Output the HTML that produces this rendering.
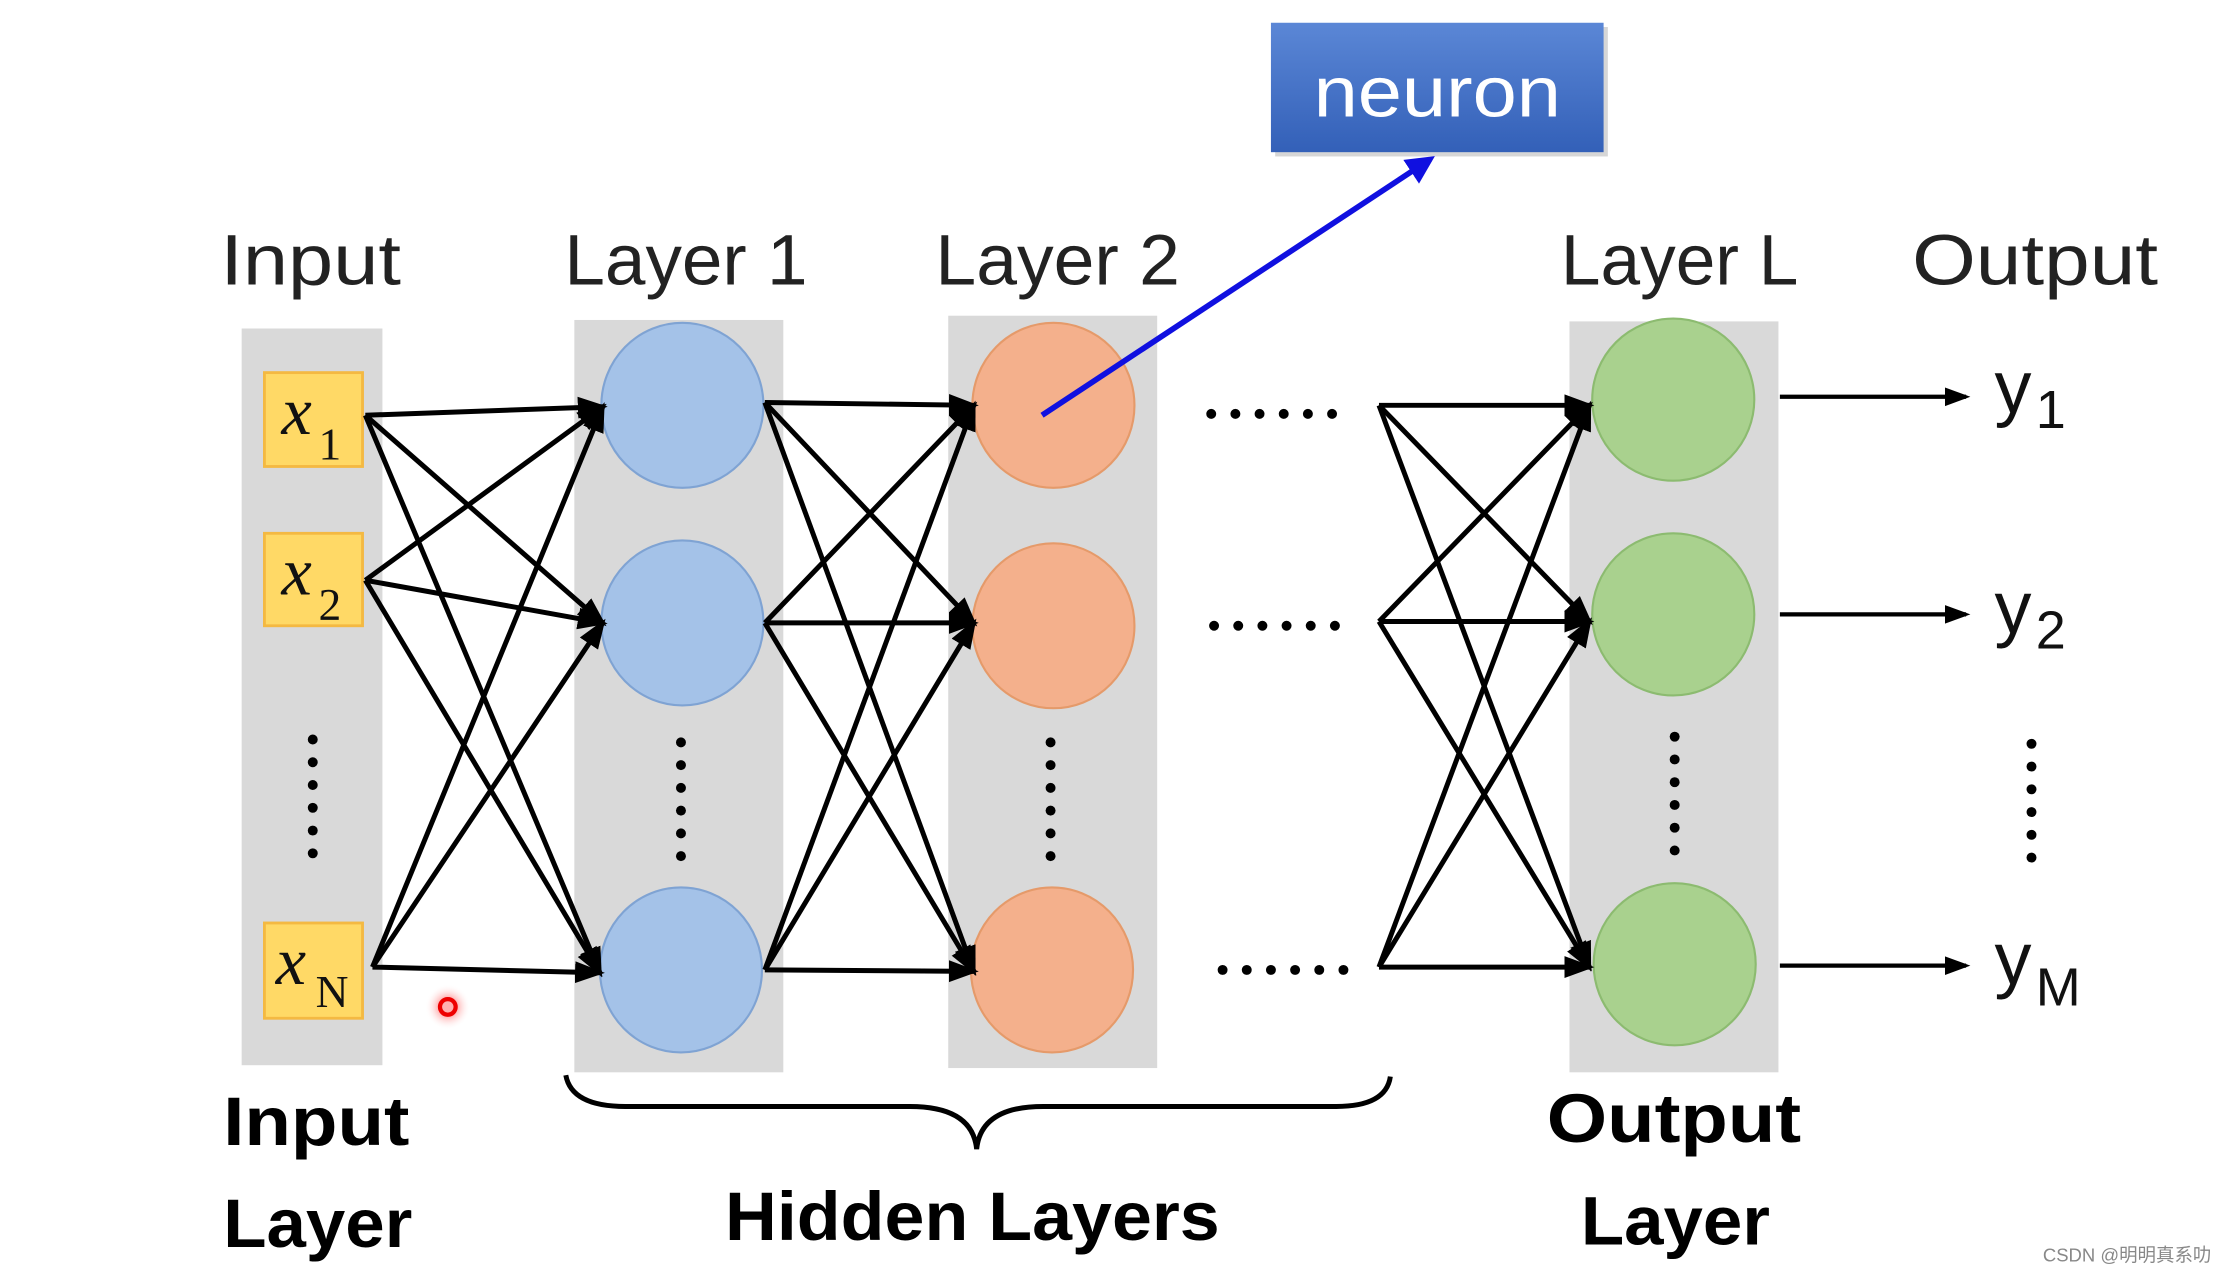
<!DOCTYPE html>
<html><head><meta charset="utf-8"><style>
html,body{margin:0;padding:0;background:#fff;}
svg{display:block;}
</style></head><body>
<svg width="2222" height="1270" viewBox="0 0 1563 893" preserveAspectRatio="none" xmlns="http://www.w3.org/2000/svg" font-family="Liberation Sans, sans-serif">
<defs>
<marker id="ah" markerWidth="6" markerHeight="6" refX="5" refY="3" orient="auto" markerUnits="strokeWidth">
<path d="M0,0.8 L6,3 L0,5.2 Z" fill="#000"/></marker>
<marker id="bh" markerWidth="5" markerHeight="5" refX="4" refY="2.5" orient="auto" markerUnits="strokeWidth">
<path d="M0,0 L5,2.5 L0,5 Z" fill="#1010e0"/></marker>
<linearGradient id="ng" x1="0" y1="0" x2="0" y2="1"><stop offset="0" stop-color="#5b87d6"/><stop offset="1" stop-color="#3360b8"/></linearGradient>
<radialGradient id="rd"><stop offset="0.4" stop-color="#ffb0b0"/><stop offset="1" stop-color="#fff" stop-opacity="0"/></radialGradient>
<g id="vd" fill="#000"><circle cx="0" cy="0" r="3.5"/><circle cx="0" cy="16" r="3.5"/><circle cx="0" cy="32" r="3.5"/><circle cx="0" cy="48" r="3.5"/><circle cx="0" cy="64" r="3.5"/><circle cx="0" cy="80" r="3.5"/></g>
<g id="hd" fill="#000"><circle cx="0" cy="0" r="3.5"/><circle cx="17" cy="0" r="3.5"/><circle cx="34" cy="0" r="3.5"/><circle cx="51" cy="0" r="3.5"/><circle cx="68" cy="0" r="3.5"/><circle cx="85" cy="0" r="3.5"/></g>
</defs>
<!-- gray columns -->
<rect x="170" y="231" width="99" height="518" fill="#d9d9d9"/>
<rect x="404" y="225" width="147" height="529" fill="#d9d9d9"/>
<rect x="667" y="222" width="147" height="529" fill="#d9d9d9"/>
<rect x="1104" y="226" width="147" height="528" fill="#d9d9d9"/>
<!-- headers -->
<g font-size="50" fill="#222">
<text x="155" y="200" textLength="127" lengthAdjust="spacingAndGlyphs">Input</text>
<text x="397" y="200" textLength="171" lengthAdjust="spacingAndGlyphs">Layer 1</text>
<text x="658" y="200" textLength="172" lengthAdjust="spacingAndGlyphs">Layer 2</text>
<text x="1098" y="200" textLength="167" lengthAdjust="spacingAndGlyphs">Layer L</text>
<text x="1345" y="200" textLength="173" lengthAdjust="spacingAndGlyphs">Output</text>
</g>
<!-- neuron box -->
<rect x="897" y="19" width="234" height="91" fill="#999" opacity="0.4"/>
<rect x="894" y="16" width="234" height="91" fill="url(#ng)"/>
<text x="924" y="82" font-size="50" fill="#fff" textLength="174" lengthAdjust="spacingAndGlyphs">neuron</text>
<!-- x boxes -->
<g fill="#ffd966" stroke="#f4b942" stroke-width="2">
<rect x="186" y="262" width="69" height="66"/>
<rect x="186" y="375" width="69" height="65"/>
<rect x="186" y="649" width="69" height="67"/>
</g>
<g style="font-family:'Liberation Serif',serif;font-style:italic" fill="#111" font-size="48">
<text x="198" y="305">x</text>
<text x="198" y="418">x</text>
<text x="194" y="692">x</text>
</g>
<g style="font-family:'Liberation Serif',serif" fill="#111" font-size="32">
<text x="224" y="323">1</text><text x="224" y="436">2</text><text x="222" y="708">N</text>
</g>
<!-- circles -->
<g fill="#a4c2e8" stroke="#7fa3d3" stroke-width="1.5">
<ellipse cx="480" cy="285" rx="57" ry="58"/><ellipse cx="480" cy="438" rx="57" ry="58"/><ellipse cx="479" cy="682" rx="57" ry="58"/>
</g>
<g fill="#f4b08c" stroke="#e59a6a" stroke-width="1.5">
<ellipse cx="741" cy="285" rx="57" ry="58"/><ellipse cx="741" cy="440" rx="57" ry="58"/><ellipse cx="740" cy="682" rx="57" ry="58"/>
</g>
<g fill="#a9d18e" stroke="#8cbb70" stroke-width="1.5">
<ellipse cx="1177" cy="281" rx="57" ry="57"/><ellipse cx="1177" cy="432" rx="57" ry="57"/><ellipse cx="1178" cy="678" rx="57" ry="57"/>
</g>
<!-- connections -->
<g stroke="#000" stroke-width="3.5" fill="none" marker-end="url(#ah)">
<line x1="257" y1="292" x2="424" y2="286"/><line x1="257" y1="292" x2="424" y2="438"/><line x1="257" y1="292" x2="422" y2="684"/>
<line x1="257" y1="408" x2="424" y2="286"/><line x1="257" y1="408" x2="424" y2="438"/><line x1="257" y1="408" x2="422" y2="684"/>
<line x1="262" y1="680" x2="424" y2="286"/><line x1="262" y1="680" x2="424" y2="438"/><line x1="262" y1="680" x2="422" y2="684"/>
<line x1="538" y1="283" x2="685" y2="285"/><line x1="538" y1="283" x2="685" y2="438"/><line x1="538" y1="283" x2="685" y2="683"/>
<line x1="538" y1="438" x2="685" y2="285"/><line x1="538" y1="438" x2="685" y2="438"/><line x1="538" y1="438" x2="685" y2="683"/>
<line x1="538" y1="682" x2="685" y2="285"/><line x1="538" y1="682" x2="685" y2="438"/><line x1="538" y1="682" x2="685" y2="683"/>
<line x1="970" y1="285" x2="1118" y2="285"/><line x1="970" y1="285" x2="1118" y2="437"/><line x1="970" y1="285" x2="1118" y2="680"/>
<line x1="970" y1="437" x2="1118" y2="285"/><line x1="970" y1="437" x2="1118" y2="437"/><line x1="970" y1="437" x2="1118" y2="680"/>
<line x1="970" y1="680" x2="1118" y2="285"/><line x1="970" y1="680" x2="1118" y2="437"/><line x1="970" y1="680" x2="1118" y2="680"/>
</g>
<g stroke="#000" stroke-width="3" marker-end="url(#ah)">
<line x1="1252" y1="279" x2="1383" y2="279"/><line x1="1252" y1="432" x2="1383" y2="432"/><line x1="1252" y1="679" x2="1383" y2="679"/>
</g>
<!-- blue arrow -->
<line x1="733" y1="292" x2="1006" y2="112" stroke="#1010e0" stroke-width="4" marker-end="url(#bh)"/>
<!-- dots -->
<use href="#vd" x="220" y="520"/><use href="#vd" x="479" y="522"/><use href="#vd" x="739" y="522"/><use href="#vd" x="1178" y="518"/><use href="#vd" x="1429" y="523"/>
<use href="#hd" x="852" y="291"/><use href="#hd" x="854" y="440"/><use href="#hd" x="860" y="682"/>
<!-- y labels -->
<g fill="#111">
<text x="1403" y="290" font-size="52">y</text><text x="1432" y="301" font-size="38">1</text>
<text x="1403" y="445" font-size="52">y</text><text x="1432" y="456" font-size="38">2</text>
<text x="1403" y="692" font-size="52">y</text><text x="1432" y="707" font-size="38">M</text>
</g>
<!-- brace -->
<path d="M398,756 Q402,778 440,778 L640,778 Q684,778 687,808 Q690,778 734,778 L940,778 Q975,778 978,757" fill="none" stroke="#000" stroke-width="3.5"/>
<!-- bottom labels -->
<g font-size="48" font-weight="bold" fill="#000">
<text x="157" y="805" textLength="131" lengthAdjust="spacingAndGlyphs">Input</text>
<text x="157" y="877" textLength="133" lengthAdjust="spacingAndGlyphs">Layer</text>
<text x="510" y="872" textLength="348" lengthAdjust="spacingAndGlyphs">Hidden Layers</text>
<text x="1088" y="803" textLength="179" lengthAdjust="spacingAndGlyphs">Output</text>
<text x="1112" y="875" textLength="133" lengthAdjust="spacingAndGlyphs">Layer</text>
</g>
<!-- red dot -->
<circle cx="315" cy="708" r="16" fill="url(#rd)"/>
<circle cx="315" cy="708" r="5.5" fill="none" stroke="#e00" stroke-width="3"/>
<text x="1437" y="887" font-size="13" fill="#888" style="font-family:'Liberation Sans','Noto Sans CJK SC',sans-serif">CSDN @明明真系叻</text>
</svg>
</body></html>
